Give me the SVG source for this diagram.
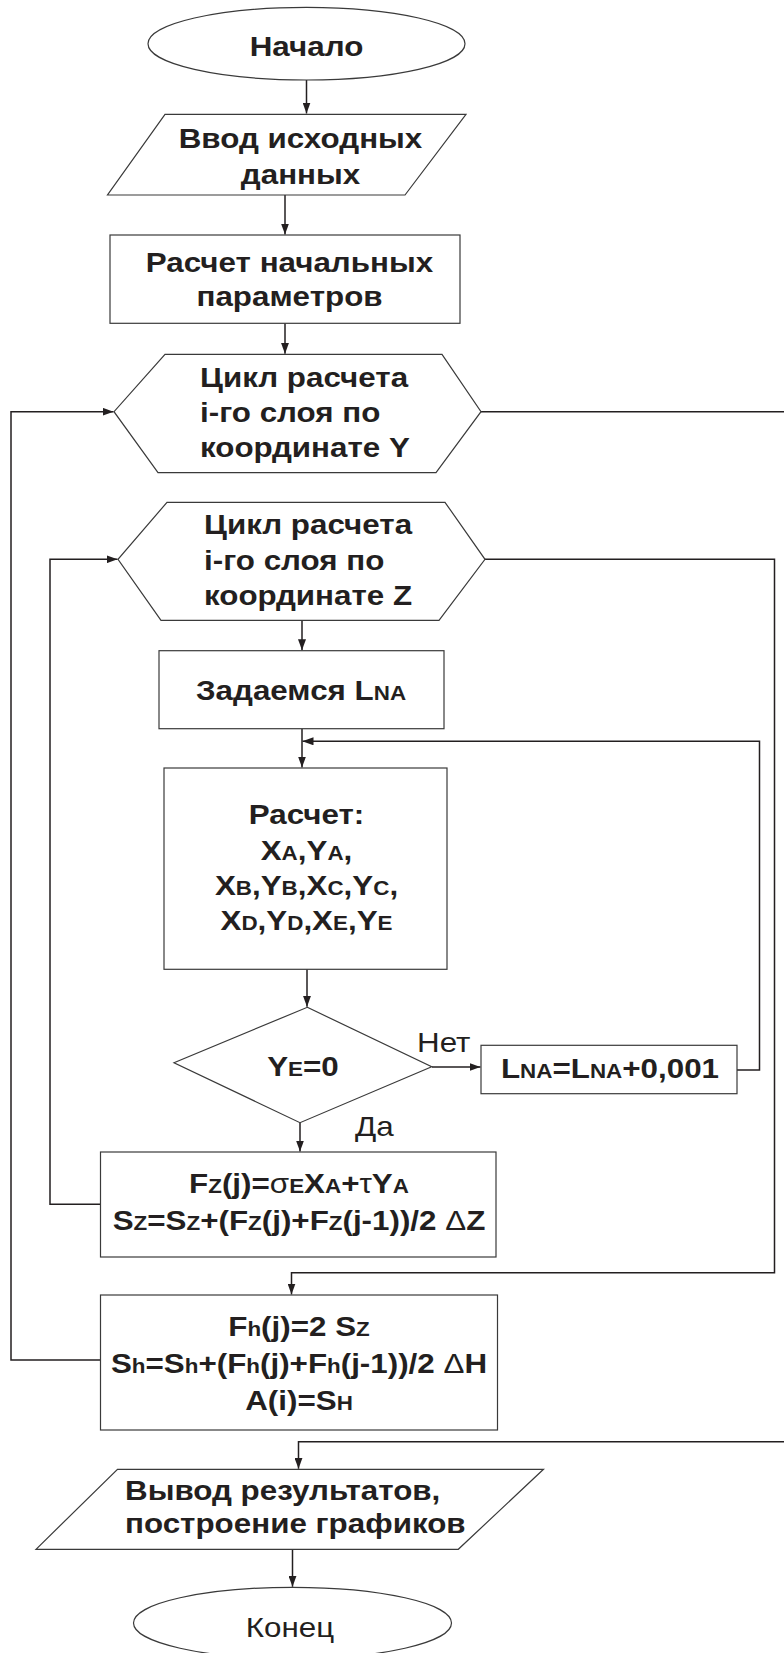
<svg xmlns="http://www.w3.org/2000/svg" width="784" height="1653" viewBox="0 0 784 1653">
<style>
.t{font-family:"Liberation Sans",Arial,sans-serif;font-weight:bold;font-size:28px;fill:#231f20}
.r{font-weight:normal}
.s{font-size:20px}
.g{font-weight:normal}
.sh{fill:#fff;stroke:#3a3a3a;stroke-width:1.2}
.c{fill:none;stroke:#231f20;stroke-width:1.5}
</style>
<defs>
<marker id="ah" markerUnits="userSpaceOnUse" markerWidth="11" markerHeight="8" refX="11" refY="4" orient="auto">
<path d="M0,0 L11,4 L0,8 z" fill="#231f20"/>
</marker>
</defs>
<rect width="784" height="1653" fill="#fff"/>
<g id="connectors">
<path class="c" d="M306.5,80 V113.5" marker-end="url(#ah)"/>
<path class="c" d="M285,195 V234.5" marker-end="url(#ah)"/>
<path class="c" d="M285,323.3 V353.8" marker-end="url(#ah)"/>
<path class="c" d="M481,411.7 H784"/>
<path class="c" d="M100,1360 H11 V411.7 H113.5" marker-end="url(#ah)"/>
<path class="c" d="M100,1204.3 H50 V559.3 H117.5" marker-end="url(#ah)"/>
<path class="c" d="M485,559.3 H774.5 V1272.7 H291.5 V1294.5" marker-end="url(#ah)"/>
<path class="c" d="M302,620.3 V650.2" marker-end="url(#ah)"/>
<path class="c" d="M302,728.7 V767.5" marker-end="url(#ah)"/>
<path class="c" d="M737,1070 H759.5 V741.3 H302.5" marker-end="url(#ah)"/>
<path class="c" d="M307,969.3 V1006.8" marker-end="url(#ah)"/>
<path class="c" d="M432,1067 H480.5" marker-end="url(#ah)"/>
<path class="c" d="M300,1122.7 V1151.5" marker-end="url(#ah)"/>
<path class="c" d="M784,1441.7 H298.5 V1468.8" marker-end="url(#ah)"/>
<path class="c" d="M292.5,1549.3 V1586.8" marker-end="url(#ah)"/>
</g>
<g id="start">
<ellipse class="sh" cx="306.5" cy="43.7" rx="158.5" ry="36.3"/>
<text class="t" text-anchor="middle" transform="translate(306.5,55.5) scale(1.12,1)">Начало</text>
</g>
<g id="input">
<polygon class="sh" points="165,114.3 466,114.3 405,195 107.5,195"/>
<text class="t" text-anchor="middle" transform="translate(300.5,148.3) scale(1.12,1)"><tspan x="0" y="0">Ввод исходных</tspan><tspan x="0" y="36">данных</tspan></text>
</g>
<g id="init">
<rect class="sh" x="110" y="235" width="350" height="88.3"/>
<text class="t" text-anchor="middle" transform="translate(289.5,271.7) scale(1.12,1)"><tspan x="0" y="0">Расчет начальных</tspan><tspan x="0" y="34.5">параметров</tspan></text>
</g>
<g id="loopY">
<polygon class="sh" points="165,354.3 442,354.3 481,411.7 436,472.7 158,472.7 114,411.7"/>
<text class="t" transform="translate(200,386.7) scale(1.12,1)"><tspan x="0" y="0">Цикл расчета</tspan><tspan x="0" y="35">i-го слоя по</tspan><tspan x="0" y="70">координате Y</tspan></text>
</g>
<g id="loopZ">
<polygon class="sh" points="167,502.3 445,502.3 485,559.3 439,620.3 161,620.3 118,559.3"/>
<text class="t" transform="translate(204,534.3) scale(1.12,1)"><tspan x="0" y="0">Цикл расчета</tspan><tspan x="0" y="35.5">i-го слоя по</tspan><tspan x="0" y="70.7">координате Z</tspan></text>
</g>
<g id="setLNA">
<rect class="sh" x="159" y="650.7" width="285" height="78"/>
<text class="t" text-anchor="middle" transform="translate(301,700) scale(1.12,1)">Задаемся L<tspan class="s">NA</tspan></text>
</g>
<g id="calc">
<rect class="sh" x="164" y="768" width="283" height="201.3"/>
<text class="t" text-anchor="middle" transform="translate(306.5,824) scale(1.12,1)"><tspan x="0" y="0">Расчет:</tspan><tspan x="0" y="36">X<tspan class="s">A</tspan>,Y<tspan class="s">A</tspan>,</tspan><tspan x="0" y="71.5">X<tspan class="s">B</tspan>,Y<tspan class="s">B</tspan>,X<tspan class="s">C</tspan>,Y<tspan class="s">C</tspan>,</tspan><tspan x="0" y="106.5">X<tspan class="s">D</tspan>,Y<tspan class="s">D</tspan>,X<tspan class="s">E</tspan>,Y<tspan class="s">E</tspan></tspan></text>
</g>
<g id="check">
<polygon class="sh" points="307.3,1007.3 431.7,1066.7 300,1122.7 174,1062.7"/>
<text class="t" text-anchor="middle" transform="translate(303,1076) scale(1.12,1)">Y<tspan class="s">E</tspan>=0</text>
<text class="t r" transform="translate(417,1051.7) scale(1.12,1)" font-size="26">Нет</text>
<text class="t r" transform="translate(355,1136) scale(1.12,1)" font-size="26">Да</text>
</g>
<g id="incLNA">
<rect class="sh" x="481" y="1045.3" width="256" height="48.4"/>
<text class="t" text-anchor="middle" transform="translate(610,1078.3) scale(1.12,1)">L<tspan class="s">NA</tspan>=L<tspan class="s">NA</tspan>+0,001</text>
</g>
<g id="sumZ">
<rect class="sh" x="100.5" y="1152" width="395.5" height="105"/>
<text class="t" text-anchor="middle" transform="translate(299,1193) scale(1.12,1)"><tspan x="0" y="0">F<tspan class="s">Z</tspan>(j)=<tspan class="g">σ</tspan><tspan class="s">E</tspan>X<tspan class="s">A</tspan>+<tspan class="g">τ</tspan>Y<tspan class="s">A</tspan></tspan><tspan x="0" y="37">S<tspan class="s">Z</tspan>=S<tspan class="s">Z</tspan>+(F<tspan class="s">Z</tspan>(j)+F<tspan class="s">Z</tspan>(j-1))/2 <tspan class="g">Δ</tspan>Z</tspan></text>
</g>
<g id="sumH">
<rect class="sh" x="100.5" y="1295" width="397" height="135"/>
<text class="t" text-anchor="middle" transform="translate(299,1335.5) scale(1.12,1)"><tspan x="0" y="0">F<tspan class="s">h</tspan>(j)=2 S<tspan class="s">Z</tspan></tspan><tspan x="0" y="38">S<tspan class="s">h</tspan>=S<tspan class="s">h</tspan>+(F<tspan class="s">h</tspan>(j)+F<tspan class="s">h</tspan>(j-1))/2 <tspan class="g">Δ</tspan>H</tspan><tspan x="0" y="74.5">A(i)=S<tspan class="s">H</tspan></tspan></text>
</g>
<g id="output">
<polygon class="sh" points="117.5,1469.3 543.5,1469.3 458.3,1549.3 36,1549.3"/>
<text class="t" transform="translate(125,1500) scale(1.12,1)"><tspan x="0" y="0">Вывод результатов,</tspan><tspan x="0" y="33">построение графиков</tspan></text>
</g>
<g id="end">
<ellipse class="sh" cx="292.5" cy="1623" rx="159" ry="35.7"/>
<text class="t r" text-anchor="middle" transform="translate(290,1636.7) scale(1.12,1)" font-size="33">Конец</text>
</g>
</svg>
